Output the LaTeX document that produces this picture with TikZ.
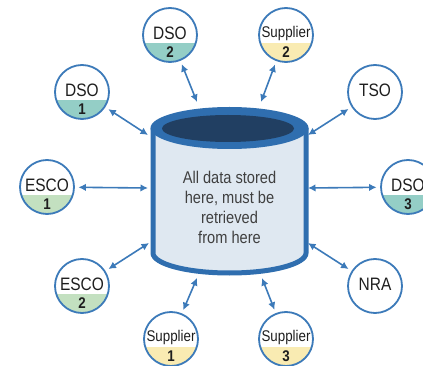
\documentclass[tikz,border=0pt]{standalone}
\usepackage{fontspec}
\setmainfont[FakeStretch=0.86]{Liberation Sans}
\usetikzlibrary{arrows.meta}
\definecolor{rim}{HTML}{2F6EAF}
\definecolor{navy}{HTML}{213F62}
\definecolor{bodyc}{HTML}{DFE8F1}
\definecolor{edge}{HTML}{3C7AB9}
\definecolor{teal}{HTML}{94CEC6}
\definecolor{yell}{HTML}{F9EBB2}
\definecolor{gren}{HTML}{C3E0C0}
\definecolor{txt}{HTML}{1E1E1E}
\tikzset{
  circ/.style={circle,draw=edge,line width=1.8pt,minimum size=54pt,inner sep=0pt},
  lbl/.style={text=txt,font=\fontsize{18}{18}\selectfont,inner sep=0pt},
  slbl/.style={text=txt,font=\fontsize{15.5}{15.5}\selectfont,inner sep=0pt},
  numl/.style={text=txt,font=\fontsize{15.5}{15.5}\selectfont\bfseries,inner sep=0pt},
  arr/.style={draw=edge,line width=1.6pt,{Latex[length=7.5pt,width=7.5pt]}-{Latex[length=7.5pt,width=7.5pt]},shorten <=3.5pt}
}
\newcommand\entity[6]{% name, x, y, label style, label, band colour
  \begin{scope}
    \clip (#2,#3) circle (27);
    \fill[white] (#2,#3) circle (27);
    \fill[#6] (#2-30,#3+8) rectangle (#2+30,#3+30);
  \end{scope}
  \node[circ] (#1) at (#2,#3) {};
  \node[#4] (#1-l) at (#2,#3-2) {#5};
}
\begin{document}
\begin{tikzpicture}[x=1pt,y=-1pt]
\useasboundingbox (0,0) rectangle (423,366);
% cylinder
\fill[bodyc] (153,128) -- (153,253) arc[start angle=180,end angle=0,x radius=76.5,y radius=20] -- (306,128) -- cycle;
\draw[rim,line width=5pt] (153,128) -- (153,253) arc[start angle=180,end angle=0,x radius=76.5,y radius=20] -- (306,128);
\fill[rim] (229.5,128) ellipse[x radius=79,y radius=21];
\fill[navy] (228,128.5) ellipse[x radius=66,y radius=13.5];
\node[text=txt!85,font=\fontsize{17}{20}\selectfont,align=center,inner sep=0pt] (store) at (229.5,207) {All data stored\\here, must be\\retrieved\\from here};
% entities
\entity{dso1}{82}{92}{lbl}{DSO}{teal}
\node[numl] (dso1-n) at (82,109) {1};
\entity{dso2}{170}{35}{lbl}{DSO}{teal}
\node[numl] (dso2-n) at (170,52) {2};
\entity{sup2}{286}{35}{slbl}{Supplier}{yell}
\node[numl] (sup2-n) at (286,52) {2};
\entity{tso}{375}{92}{lbl}{TSO}{white}
\entity{esco1}{47}{187}{lbl}{ESCO}{gren}
\node[numl] (esco1-n) at (47,204) {1};
\entity{dso3}{408}{187}{lbl}{DSO}{teal}
\node[numl] (dso3-n) at (408,204) {3};
\entity{esco2}{82}{286}{lbl}{ESCO}{gren}
\node[numl] (esco2-n) at (82,303) {2};
\entity{nra}{375}{286}{lbl}{NRA}{white}
\entity{sup1}{171}{339}{slbl}{Supplier}{yell}
\node[numl] (sup1-n) at (171,356) {1};
\entity{sup3}{286}{339}{slbl}{Supplier}{yell}
\node[numl] (sup3-n) at (286,356) {3};
% arrow end points at the cylinder
\coordinate (a1) at (148,135);
\coordinate (a2) at (197,102);
\coordinate (a3) at (261,102);
\coordinate (a4) at (308,135);
\coordinate (a5) at (148,188);
\coordinate (a6) at (308,188);
\coordinate (a7) at (149,243);
\coordinate (a8) at (308,243);
\coordinate (a9) at (197,278);
\coordinate (a10) at (262,278);
\draw[arr] (dso1) -- (a1);
\draw[arr] (dso2) -- (a2);
\draw[arr] (sup2) -- (a3);
\draw[arr] (tso) -- (a4);
\draw[arr] (esco1) -- (a5);
\draw[arr] (dso3) -- (a6);
\draw[arr] (esco2) -- (a7);
\draw[arr] (nra) -- (a8);
\draw[arr] (sup1) -- (a9);
\draw[arr] (sup3) -- (a10);
\end{tikzpicture}
\end{document}
